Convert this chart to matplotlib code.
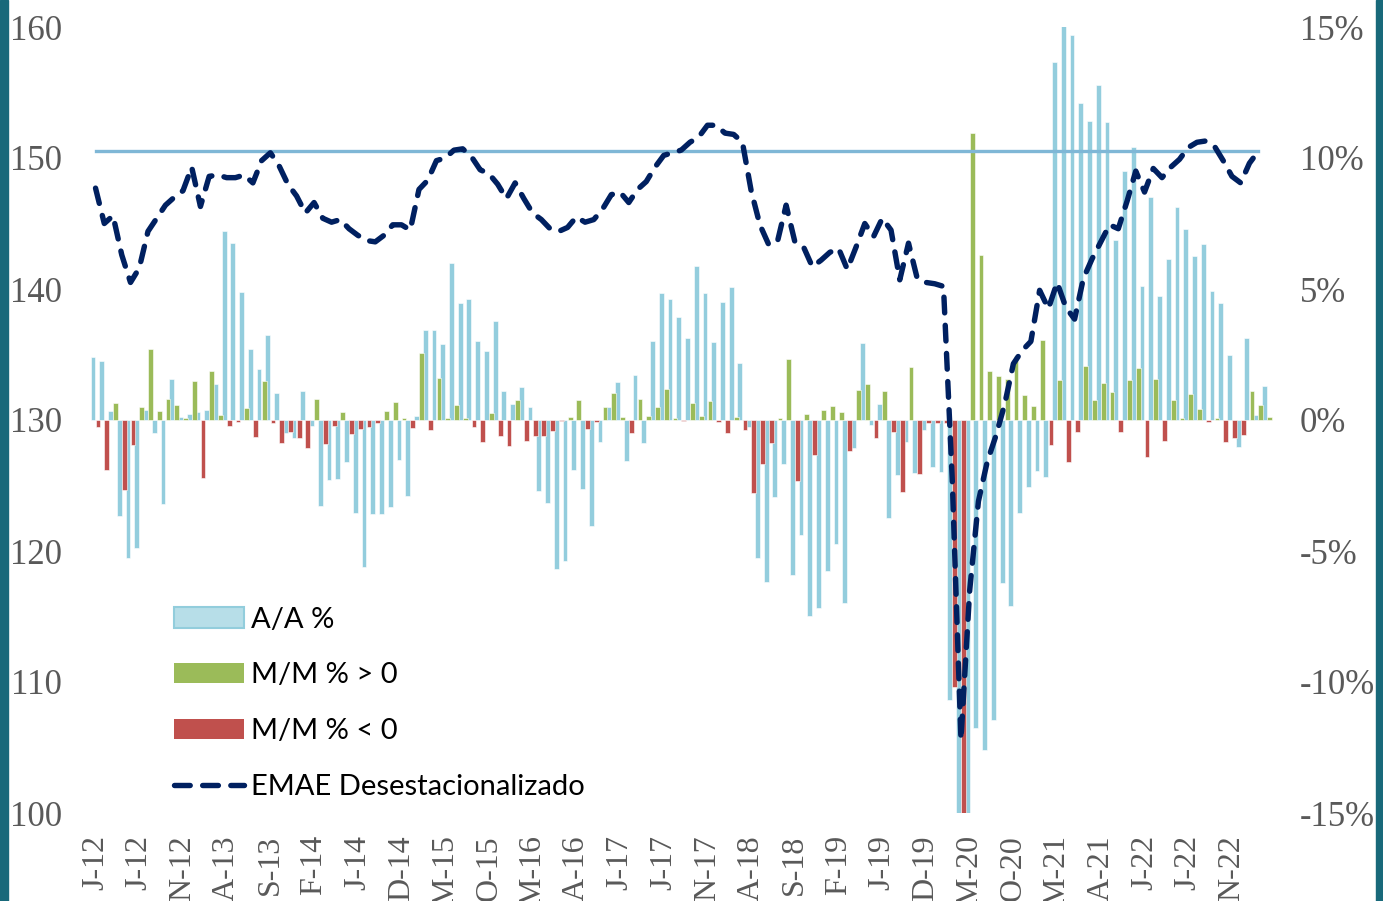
import numpy as np
import matplotlib.pyplot as plt
from matplotlib.patches import Patch, Rectangle
from matplotlib.lines import Line2D

# EMAE desestacionalizado, Jan-2012 .. Feb-2023 (left axis)
emae = [147.7, 145.0, 145.6, 142.6, 140.5, 141.6, 144.4, 145.4, 146.4, 147.0,
        147.5, 149.3, 146.3, 148.6, 148.7, 148.5, 148.5, 148.7, 148.1, 149.8,
        150.4, 149.4, 148.0, 147.1, 145.8, 146.6, 145.4, 145.1, 145.3, 144.6,
        144.1, 143.7, 143.6, 144.1, 144.9, 144.9, 144.5, 147.6, 148.3, 149.8,
        150.0, 150.6, 150.7, 150.1, 149.1, 148.8, 148.0, 146.9, 148.1, 146.9,
        145.8, 145.3, 144.6, 144.4, 144.7, 145.5, 145.1, 145.3, 146.1, 147.2,
        147.4, 146.6, 147.6, 148.2, 149.3, 150.2, 150.4, 150.6, 151.2, 151.6,
        152.5, 152.5, 151.9, 151.8, 151.2, 147.5, 144.9, 143.4, 143.6, 146.4,
        143.6, 143.2, 141.7, 142.2, 142.8, 143.1, 141.5, 143.2, 145.0, 144.0,
        145.4, 144.5, 140.7, 143.5, 140.8, 140.5, 140.4, 140.2, 125.5, 105.6,
        117.0, 123.8, 126.8, 128.8, 131.2, 134.3, 135.3, 136.0, 139.9, 138.5,
        140.5, 138.6, 137.7, 140.8, 142.3, 143.6, 144.9, 144.6, 146.7, 149.0,
        147.4, 149.2, 148.5, 149.3, 149.9, 150.8, 151.2, 151.3, 150.9, 149.8,
        148.6, 148.1, 149.6, 150.5]
referencia = 150.5

# A/A % (right axis), Jan-2012 .. Mar-2023
aa = [2.39, 2.25, 0.36, -3.66, -5.28, -4.9, 0.38, -0.48, -3.2, 1.56,
      0.1, 0.23, 0.3, 0.38, 1.37, 7.21, 6.77, 4.9, 2.7, 1.94,
      3.24, 1.04, -0.48, -0.7, 1.1, -0.23, -3.28, -2.3, -2.25, -1.6,
      -3.54, -5.6, -3.6, -3.6, -3.33, -1.53, -2.9, 0.15, 3.44, 3.44,
      2.9, 6.0, 4.48, 4.6, 3.0, 2.63, 3.79, 1.12, 0.61, 1.25,
      0.49, -2.7, -3.18, -5.69, -5.37, -1.91, -2.64, -4.03, -0.85, 0.5,
      1.44, -1.55, 1.72, -0.87, 3.03, 4.84, 4.6, 3.94, 3.12, 5.89,
      4.86, 2.99, 4.52, 5.09, 2.16, -0.28, -5.25, -6.17, -2.93, -1.69,
      -5.92, -4.4, -7.48, -7.19, -5.76, -4.72, -6.97, -1.07, 2.93, -0.19,
      0.61, -3.74, -2.1, -0.83, -2.01, -0.38, -1.78, -1.97, -10.7, -25.9,
      -20.6, -11.76, -12.6, -11.45, -6.21, -7.1, -3.56, -2.56, -1.95, -2.18,
      13.66, 15.04, 14.7, 12.1, 11.41, 12.77, 11.37, 6.87, 9.52, 10.43,
      5.11, 8.5, 4.73, 6.14, 8.14, 7.28, 6.26, 6.72, 4.94, 4.48,
      2.5, -1.02, 3.12, 0.2, 1.31]

# M/M %
mm = [-0.25, -1.9, 0.64, -2.67, -0.95, 0.5, 2.7, 0.36, 0.8, 0.58,
      0.07, 1.49, -2.22, 1.86, 0.19, -0.23, -0.06, 0.45, -0.66, 1.5,
      -0.1, -0.87, -0.45, -0.7, -1.08, 0.8, -0.92, -0.23, 0.3, -0.53,
      -0.35, -0.28, -0.13, 0.36, 0.68, 0.06, -0.3, 2.55, -0.38, 1.62,
      0.06, 0.57, 0.06, -0.28, -0.83, 0.28, -0.61, -0.99, 0.76, -0.79,
      -0.61, -0.61, -0.42, -0.05, 0.1, 0.76, -0.35, -0.06, 0.49, 1.04,
      0.13, -0.49, 0.8, 0.15, 0.49, 1.17, 0.06, -0.05, 0.64, 0.15,
      0.72, -0.08, -0.48, 0.13, -0.38, -2.8, -1.68, -0.89, 0.06, 2.32,
      -2.33, 0.23, -1.34, 0.38, 0.53, 0.3, -1.2, 1.14, 1.37, -0.7,
      1.12, -0.45, -2.74, 2.03, -2.06, -0.1, -0.1, -0.1, -10.2, -16.5,
      10.95, 6.3, 1.87, 1.69, 1.56, 2.44, 0.95, 0.53, 3.05, -0.95,
      1.53, -1.61, -0.45, 2.07, 0.76, 1.4, 1.06, -0.45, 1.53, 1.97,
      -1.42, 1.56, -0.8, 0.76, 0.09, 0.99, 0.41, -0.06, 0.09, -0.85,
      -0.7, -0.57, 1.12, 0.57, 0.13]

tick_labels = ['J-12', 'J-12', 'N-12', 'A-13', 'S-13', 'F-14', 'J-14', 'D-14',
               'M-15', 'O-15', 'M-16', 'A-16', 'J-17', 'J-17', 'N-17', 'A-18',
               'S-18', 'F-19', 'J-19', 'D-19', 'M-20', 'O-20', 'M-21', 'A-21',
               'J-22', 'J-22', 'N-22']

W, H = 1383, 901
fig = plt.figure(figsize=(W / 100, H / 100), dpi=100)
fig.patch.set_facecolor('white')
# slide background showing at the edges
fig.patches.append(Rectangle((0, 0), 8 / W, 1, transform=fig.transFigure, color='#18697a', zorder=0))
fig.patches.append(Rectangle((1376 / W, 0), 7 / W, 1, transform=fig.transFigure, color='#18697a', zorder=0))

ax = fig.add_axes([84 / W, 1 - 813 / H, (1276 - 84) / W, (813 - 27) / H])
ax2 = ax.twinx()

x = np.arange(len(aa))
mm = np.array(mm)
ax2.bar(x - 0.29, aa, width=0.55, color='#93cddd', edgecolor='white', linewidth=0.4)
ax2.bar(x + 0.29, mm, width=0.55, color=np.where(mm >= 0, '#9bbb59', '#c0504d'),
        edgecolor='white', linewidth=0.4)

xl = np.arange(len(emae))
ax.plot(xl, [referencia] * len(emae), color='#7fb7d6', lw=2.4, zorder=2)
ax.plot(xl, emae, color='#002060', lw=3.9, ls=(0, (2.9, 2.3)), dash_capstyle='round', zorder=3)

ax.set_zorder(ax2.get_zorder() + 1)
ax.patch.set_visible(False)

ax.set_xlim(-1.32, 135.04)
ax.set_ylim(100, 160)
ax2.set_ylim(-15, 15)
ax.set_yticks(range(100, 161, 10))
ax2.set_yticks(range(-15, 16, 5))
ax2.set_yticklabels([f'{v}%' for v in range(-15, 16, 5)])
ax.set_xticks(range(0, len(aa), 5))
ax.set_xticklabels(tick_labels, rotation=90)

serif = 'Liberation Serif'
for a in (ax, ax2):
    for s in a.spines.values():
        s.set_visible(False)
    a.tick_params(length=0, labelsize=25, labelcolor='#595959')
    for t in a.get_xticklabels() + a.get_yticklabels():
        t.set_fontfamily(serif)
ax.tick_params(axis='y', pad=16)
ax2.tick_params(axis='y', pad=17)
ax.tick_params(axis='x', pad=16, labelsize=23)

handles = [Patch(facecolor='#b7dee8', edgecolor='#92cddc', lw=1.5),
           Patch(facecolor='#9bbb59'),
           Patch(facecolor='#c0504d'),
           Line2D([], [], color='#002060', lw=3.9, ls=(0, (2.9, 2.3)), dash_capstyle='round')]
labels = ['A/A %', 'M/M % > 0', 'M/M % < 0', 'EMAE Desestacionalizado']
fig.legend(handles, labels, loc='upper left', bbox_to_anchor=(159 / W, 1 - 592 / H),
           frameon=False, borderpad=0, handlelength=2.4, handletextpad=0.25,
           labelspacing=1.02, prop={'family': 'Lato', 'size': 21})

fig.savefig('out.png', dpi=100)
